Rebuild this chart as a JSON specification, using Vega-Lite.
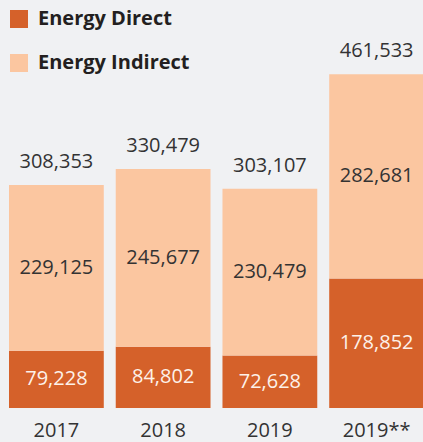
{
  "$schema": "https://vega.github.io/schema/vega-lite/v6.json",
  "width": 423,
  "height": 408,
  "autosize": {"type": "none"},
  "padding": {"left": 0, "top": 0, "right": 0, "bottom": 34},
  "background": "#f0f1f3",
  "config": {"view": {"stroke": null}, "font": "Open Sans"},
  "data": {
    "values": [
      {"year": "2017", "type": "Energy Direct", "value": 79228},
      {"year": "2017", "type": "Energy Indirect", "value": 229125},
      {"year": "2018", "type": "Energy Direct", "value": 84802},
      {"year": "2018", "type": "Energy Indirect", "value": 245677},
      {"year": "2019", "type": "Energy Direct", "value": 72628},
      {"year": "2019", "type": "Energy Indirect", "value": 230479},
      {"year": "2019**", "type": "Energy Direct", "value": 178852},
      {"year": "2019**", "type": "Energy Indirect", "value": 282681}
    ]
  },
  "encoding": {
    "x": {
      "field": "year",
      "type": "nominal",
      "sort": null,
      "scale": {"range": [9, 424], "paddingInner": 0.112, "paddingOuter": 0},
      "axis": {
        "title": null,
        "domain": false,
        "ticks": false,
        "labelAngle": 0,
        "labelFont": "Open Sans",
        "labelFontSize": 20,
        "labelColor": "#333333",
        "labelBaseline": "alphabetic",
        "labelPadding": 28
      }
    }
  },
  "layer": [
    {
      "mark": {"type": "bar"},
      "encoding": {
        "y": {
          "field": "value",
          "type": "quantitative",
          "stack": "zero",
          "scale": {"domain": [0, 564000], "nice": false},
          "axis": null
        },
        "color": {
          "field": "type",
          "type": "nominal",
          "scale": {"domain": ["Energy Direct", "Energy Indirect"], "range": ["#d5612a", "#fbc6a0"]},
          "legend": {
            "title": null,
            "orient": "none",
            "legendX": 9,
            "legendY": 9,
            "padding": 0,
            "symbolType": "square",
            "symbolSize": 324,
            "symbolStrokeWidth": 0,
            "labelFont": "Open Sans",
            "labelFontSize": 20,
            "labelFontWeight": "bold",
            "labelColor": "#231f20",
            "labelOffset": 9,
            "rowPadding": 24
          }
        },
        "order": {"field": "type", "sort": "ascending"}
      }
    },
    {
      "transform": [
        {"stack": "value", "groupby": ["year"], "sort": [{"field": "type", "order": "ascending"}], "as": ["v0", "v1"]},
        {"fold": ["v0", "v1"], "as": ["k", "pos"]},
        {"aggregate": [{"op": "mean", "field": "pos", "as": "mid"}, {"op": "max", "field": "value", "as": "label"}], "groupby": ["year", "type"]}
      ],
      "mark": {"type": "text", "font": "Open Sans", "fontSize": 20, "baseline": "middle"},
      "encoding": {
        "y": {"field": "mid", "type": "quantitative"},
        "text": {"field": "label", "type": "quantitative", "format": ","},
        "color": {
          "condition": {"test": "datum.type === 'Energy Direct'", "value": "#fdf1e9"},
          "value": "#333333"
        }
      }
    },
    {
      "transform": [
        {"aggregate": [{"op": "sum", "field": "value", "as": "total"}], "groupby": ["year"]}
      ],
      "mark": {"type": "text", "font": "Open Sans", "fontSize": 20, "baseline": "alphabetic", "dy": -17, "color": "#333333"},
      "encoding": {
        "y": {"field": "total", "type": "quantitative"},
        "text": {"field": "total", "type": "quantitative", "format": ","}
      }
    }
  ]
}
